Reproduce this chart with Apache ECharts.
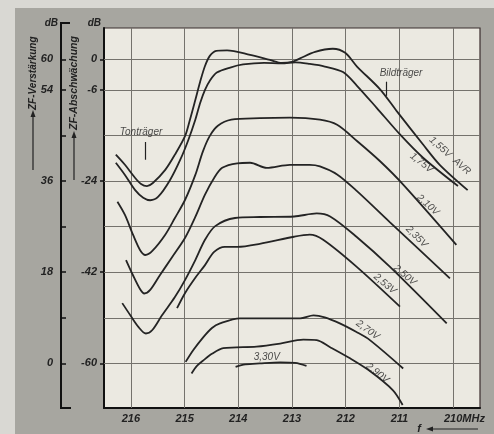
<!DOCTYPE html>
<html><head><meta charset="utf-8">
<script src="https://cdn.jsdelivr.net/npm/echarts@6/dist/echarts.min.js"></script>
<style>
html,body{margin:0;padding:0;background:#d9d8d3;}
#bg{position:absolute;left:15px;top:8px;right:0;bottom:0;background:#a7a6a0;}
#chart{position:absolute;left:0;top:0;width:494px;height:434px;}
</style></head><body><div id="bg"></div><div id="chart"></div>
<script>
// Frequency axis (MHz) and level axes (dB)
const freqTicks = [216, 215, 214, 213, 212, 211, 210];
const attLabels = [0, -6, -24, -42, -60];          // ZF-Abschwächung
const attGrid = [0, -6, -15, -24, -33, -42, -51, -60];
const gainLabels = [60, 54, 36, 18, 0];            // ZF-Verstärkung
const gainTicks = [60, 54, 45, 36, 27, 18, 9, 0];

// Curves: frequency (MHz) and attenuation (dB)
const f155 = [216.28,216.11,215.92,215.81,215.70,215.59,215.36,215.18,214.99,214.90,214.80,214.71,214.62,214.53,214.41,214.21,213.78,213.41,213.19,213.00,212.85,212.57,212.24,212.01,211.79,211.36,211.05,210.56,210.25,209.73];
const v155 = [-18.8,-20.8,-23.4,-24.6,-25.0,-24.4,-21.8,-18.8,-15.1,-11.9,-8.0,-4.4,-1.3,0.7,1.7,1.8,0.9,-0.1,-0.7,-0.5,0.2,1.5,2.1,1.3,-1.4,-5.9,-10.2,-16.8,-20.8,-25.8];
const f175 = [216.28,216.11,215.92,215.77,215.64,215.49,215.27,215.08,214.93,214.80,214.71,214.62,214.53,214.40,214.15,213.91,213.52,213.19,212.94,212.67,212.39,212.05,211.79,211.42,210.99,210.56,209.91];
const v175 = [-20.4,-22.8,-25.8,-27.3,-27.8,-27.1,-23.8,-19.8,-15.9,-11.9,-8.6,-6.0,-4.2,-2.6,-1.6,-1.0,-0.7,-0.8,-0.6,-0.9,-1.4,-2.5,-5.2,-9.6,-14.8,-19.4,-25.0];
const f210 = [216.25,216.11,215.96,215.83,215.73,215.60,215.36,215.18,214.99,214.80,214.66,214.53,214.38,214.13,213.60,213.04,212.48,212.16,211.79,211.36,210.93,209.94];
const v210 = [-28.1,-30.7,-34.6,-37.6,-38.6,-37.8,-34.6,-31.3,-27.7,-22.8,-18.2,-15.1,-13.1,-11.9,-11.6,-11.5,-11.9,-12.9,-16.1,-20.1,-24.7,-36.6];
const f235 = [216.09,215.96,215.83,215.75,215.64,215.46,215.23,214.99,214.80,214.62,214.45,214.30,214.02,213.78,213.47,213.04,212.67,212.48,212.16,211.79,211.18,210.06];
const v235 = [-39.6,-42.6,-45.3,-46.2,-45.5,-42.6,-39.0,-35.2,-31.1,-26.7,-23.4,-21.4,-20.5,-20.4,-21.4,-20.8,-20.8,-21.1,-22.7,-26.0,-32.1,-43.2];
const f250 = [216.16,216.01,215.86,215.72,215.60,215.42,215.18,214.99,214.80,214.62,214.43,214.06,213.60,212.96,212.54,212.29,211.80,211.18,210.12];
const v250 = [-48.1,-50.5,-52.8,-54.1,-53.4,-50.5,-46.9,-43.5,-39.6,-35.6,-32.9,-31.3,-31.1,-31.0,-30.4,-31.0,-35.0,-40.9,-52.1];
const f253 = [215.14,214.99,214.80,214.62,214.45,214.25,214.02,213.60,212.96,212.67,212.42,211.80,210.99];
const v253 = [-49.1,-46.1,-43.1,-40.6,-38.0,-37.0,-37.0,-36.4,-35.0,-34.6,-35.6,-40.9,-48.8];
const f270 = [214.98,214.84,214.65,214.49,214.34,213.97,212.85,212.60,212.39,212.11,211.80,211.55,210.93];
const v270 = [-59.7,-57.4,-54.8,-53.0,-52.1,-51.1,-51.1,-50.5,-50.9,-52.1,-53.8,-55.4,-61.0];
const f290 = [214.87,214.77,214.65,214.49,214.28,213.66,213.22,212.79,212.54,212.29,211.92,211.55,211.12,210.94];
const v290 = [-62.0,-60.5,-59.4,-58.1,-57.0,-56.7,-56.1,-55.3,-55.4,-56.8,-59.0,-61.5,-65.3,-68.2];
const f330 = [214.05,213.87,213.60,213.22,212.94,212.73];
const v330 = [-60.7,-60.2,-60.0,-59.8,-59.9,-60.5];

const curveNames = ['1,55V AVR','1,75V','2,10V','2,35V','2,50V','2,53V','2,70V','2,90V','3,30V'];
const curveF = [f155,f175,f210,f235,f250,f253,f270,f290,f330];
const curveV = [v155,v175,v210,v235,v250,v253,v270,v290,v330];

const ink = '#222';
const FONT = 'Liberation Sans';
const axLab = {color: ink, fontStyle: 'italic', fontWeight: 'bold', fontSize: 11, fontFamily: FONT};

const curveSeries = curveNames.map((n, i) => ({
  name: n, type: 'line', xAxisIndex: 0, yAxisIndex: 0, z: 3,
  showSymbol: false, smooth: 0.3, silent: true,
  lineStyle: {color: '#242424', width: 1.8},
  data: curveF[i].map((f, k) => [f, curveV[i][k]])
}));

const lab = (text, x, y, rot, size) => ({
  value: [x, y],
  label: {formatter: text, rotate: rot, fontSize: size || 10}
});

const annotSeries = {
  type: 'scatter', xAxisIndex: 0, yAxisIndex: 0, silent: true,
  symbolSize: 0, itemStyle: {color: 'transparent'},
  label: {show: true, position: [0, 0], align: 'center', verticalAlign: 'middle',
          color: ink, fontStyle: 'italic', fontFamily: FONT, fontSize: 10},
  data: [
    lab('1,55V  AVR', 210.06, -19.0, -42),
    lab('1,75V', 210.59, -20.4, -38),
    lab('2,10V', 210.47, -28.7, -42),
    lab('2,35V', 210.68, -35.0, -45),
    lab('2,50V', 210.90, -42.6, -40),
    lab('2,53V', 211.27, -44.3, -40),
    lab('2,70V', 211.59, -53.4, -36),
    lab('2,90V', 211.41, -61.9, -38),
    lab('3,30V', 213.47, -58.8, 0),
    lab('Tonträger', 215.81, -14.3, 0),
    lab('Bildträger', 210.97, -2.8, 0)
  ],
  markLine: {
    silent: true, z: 1, symbol: ['none', 'none'], label: {show: false},
    lineStyle: {color: '#74726c', width: 1, type: 'solid'},
    data: freqTicks.map(v => ({xAxis: v})).concat(attGrid.map(v => ({yAxis: v}))).concat([
      [{coord: [215.73, -16.3], lineStyle: {color: ink, width: 1.2}}, {coord: [215.73, -19.8]}],
      [{coord: [211.24, -4.4], lineStyle: {color: ink, width: 1.2}}, {coord: [211.24, -7.2]}]
    ])
  }
};

const chart = echarts.init(document.getElementById('chart'), null, {renderer: 'canvas'});
chart.setOption({
  animation: false,
  grid: {left: 104, top: 28, right: 14, bottom: 26, show: true,
         backgroundColor: '#ebe9e1', borderColor: '#3a2e2e', borderWidth: 1.2},
  xAxis: {
    type: 'value', min: 209.5, max: 216.5, inverse: true,
    axisLine: {show: true, onZero: false, lineStyle: {color: '#111', width: 2}},
    axisTick: {show: false}, splitLine: {show: false},
    axisLabel: Object.assign({}, axLab, {
      customValues: freqTicks, margin: 5,
      formatter: v => v === 210 ? '{s|MHz}210MHz' : String(v),
      rich: {s: {color: 'transparent', fontSize: 11, fontStyle: 'italic', fontWeight: 'bold', fontFamily: FONT}}
    })
  },
  yAxis: [
    {
      type: 'value', min: -68.8, max: 6.2, position: 'left',
      axisLine: {show: true, onZero: false, lineStyle: {color: '#111', width: 2}},
      axisTick: {show: true, customValues: attLabels, length: 4, lineStyle: {color: '#111', width: 1.5}},
      axisLabel: Object.assign({}, axLab, {customValues: attLabels, margin: 7}),
      splitLine: {show: false}
    },
    {
      type: 'value', min: -8.8, max: 66.2, position: 'left', offset: 43,
      axisLine: {show: true, onZero: false, lineStyle: {color: '#111', width: 2}},
      axisTick: {show: true, inside: true, customValues: gainTicks, length: 5, lineStyle: {color: '#111', width: 1.5}},
      axisLabel: Object.assign({}, axLab, {customValues: gainLabels, margin: 8}),
      splitLine: {show: false}
    }
  ],
  graphic: [
    {type: 'text', x: 58, y: 23, style: {text: 'dB', align: 'right', verticalAlign: 'middle', fill: ink, font: 'italic bold 10px ' + FONT}},
    {type: 'text', x: 101, y: 23, style: {text: 'dB', align: 'right', verticalAlign: 'middle', fill: ink, font: 'italic bold 10px ' + FONT}},
    {type: 'polyline', shape: {points: [[70, 23], [61, 23], [61, 29]]}, style: {stroke: '#111', lineWidth: 2, fill: null}},
    {type: 'polyline', shape: {points: [[61, 407], [61, 408], [71, 408]]}, style: {stroke: '#111', lineWidth: 2, fill: null}},
    {type: 'text', x: 33, y: 110, rotation: Math.PI / 2, style: {text: 'ZF-Verstärkung', align: 'left', verticalAlign: 'middle', fill: ink, font: 'italic bold 10px ' + FONT}},
    {type: 'text', x: 74, y: 130, rotation: Math.PI / 2, style: {text: 'ZF-Abschwächung', align: 'left', verticalAlign: 'middle', fill: ink, font: 'italic bold 10.5px ' + FONT}},
    {type: 'line', shape: {x1: 33, y1: 170, x2: 33, y2: 114}, style: {stroke: ink, lineWidth: 1.2}},
    {type: 'polygon', shape: {points: [[33, 110], [30.5, 117], [35.5, 117]]}, style: {fill: ink}},
    {type: 'line', shape: {x1: 74, y1: 180, x2: 74, y2: 135}, style: {stroke: ink, lineWidth: 1.2}},
    {type: 'polygon', shape: {points: [[74, 131], [71.5, 138], [76.5, 138]]}, style: {fill: ink}},
    {type: 'text', x: 419, y: 429, style: {text: 'f', align: 'center', verticalAlign: 'middle', fill: ink, font: 'italic bold 11px ' + FONT}},
    {type: 'line', shape: {x1: 430, y1: 429, x2: 478, y2: 429}, style: {stroke: ink, lineWidth: 1.2}},
    {type: 'polygon', shape: {points: [[426, 429], [433, 426.5], [433, 431.5]]}, style: {fill: ink}}
  ],
  series: curveSeries.concat([annotSeries])
});
</script></body></html>
